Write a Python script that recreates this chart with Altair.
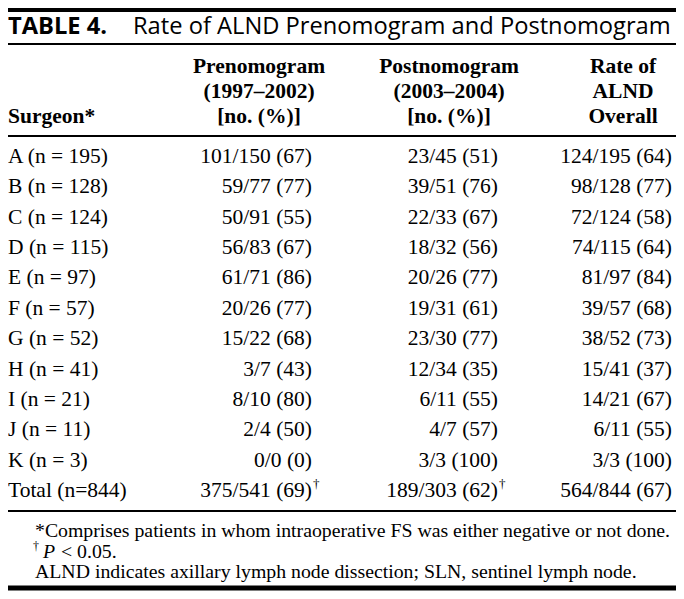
import altair as alt
import pandas as pd

# ---------------- data ----------------
table_label = "TABLE 4."
table_title = "Rate of ALND Prenomogram and Postnomogram"

head_surgeon = ["", "", "Surgeon*"]
head_pre = ["Prenomogram", "(1997–2002)", "[no. (%)]"]
head_post = ["Postnomogram", "(2003–2004)", "[no. (%)]"]
head_overall = ["Rate of", "ALND", "Overall"]

surgeons = ["A (n = 195)", "B (n = 128)", "C (n = 124)", "D (n = 115)", "E (n = 97)",
            "F (n = 57)", "G (n = 52)", "H (n = 41)", "I (n = 21)", "J (n = 11)",
            "K (n = 3)", "Total (n=844)"]
pre = ["101/150 (67)", "59/77 (77)", "50/91 (55)", "56/83 (67)", "61/71 (86)",
       "20/26 (77)", "15/22 (68)", "3/7 (43)", "8/10 (80)", "2/4 (50)",
       "0/0 (0)", "375/541 (69)"]
post = ["23/45 (51)", "39/51 (76)", "22/33 (67)", "18/32 (56)", "20/26 (77)",
        "19/31 (61)", "23/30 (77)", "12/34 (35)", "6/11 (55)", "4/7 (57)",
        "3/3 (100)", "189/303 (62)"]
overall = ["124/195 (64)", "98/128 (77)", "72/124 (58)", "74/115 (64)", "81/97 (84)",
           "39/57 (68)", "38/52 (73)", "15/41 (37)", "14/21 (67)", "6/11 (55)",
           "3/3 (100)", "564/844 (67)"]
pre_sig = [""] * 11 + ["†"]
post_sig = [""] * 11 + ["†"]

footnote_1 = "*Comprises patients in whom intraoperative FS was either negative or not done."
footnote_2_mark = "†"
footnote_2_var = "P"
footnote_2_rest = "< 0.05."
footnote_3 = "ALND indicates axillary lymph node dissection; SLN, sentinel lymph node."

# ---------------- layout ----------------
W, H = 668, 583
SERIF = "Liberation Serif"
SANS = "Open Sans"
FS = 21.5

X_LEFT = 0
X_PRE_R, X_POST_R, X_ALL_R = 304, 490, 664
X_PRE_C, X_POST_C, X_ALL_C = 251, 441, 615

rows = pd.DataFrame({"row": list(range(len(surgeons))), "surgeon": surgeons, "pre": pre,
                     "post": post, "overall": overall, "pre_sig": pre_sig, "post_sig": post_sig})
heads = pd.DataFrame({"line": [0, 1, 2], "surgeon": head_surgeon, "pre": head_pre,
                      "post": head_post, "overall": head_overall})
one = pd.DataFrame({"k": [0]})

row_y = alt.Y("row:Q", scale=alt.Scale(domain=[0, len(surgeons) - 1], range=[149, 483]), axis=None)
head_y = alt.Y("line:Q", scale=alt.Scale(domain=[0, 2], range=[59, 109]), axis=None)

layers = []

# rules
def rule(y, w):
    return alt.Chart(one).mark_rule(color="black", strokeWidth=w).encode(
        x=alt.value(0), x2=alt.value(W), y=alt.value(y))

layers += [rule(2, 4), rule(36, 2), rule(128, 2), rule(503, 2), rule(580, 5)]

# title
tstyle = dict(align="left", baseline="middle", font=SANS, fontSize=23.7, color="black")
layers.append(alt.Chart(one).mark_text(fontWeight="bold", **tstyle).encode(
    x=alt.value(0), y=alt.value(19), text=alt.value(table_label)))
layers.append(alt.Chart(one).mark_text(**tstyle).encode(
    x=alt.value(125), y=alt.value(19), text=alt.value(table_title)))

# header
hbase = alt.Chart(heads).encode(y=head_y)
hstyle = dict(baseline="middle", font=SERIF, fontSize=FS, fontWeight="bold", color="black")
layers.append(hbase.mark_text(align="left", **hstyle).encode(x=alt.value(X_LEFT), text="surgeon:N"))
layers.append(hbase.mark_text(align="center", **hstyle).encode(x=alt.value(X_PRE_C), text="pre:N"))
layers.append(hbase.mark_text(align="center", **hstyle).encode(x=alt.value(X_POST_C), text="post:N"))
layers.append(hbase.mark_text(align="center", **hstyle).encode(x=alt.value(X_ALL_C), text="overall:N"))

# body
rbase = alt.Chart(rows).encode(y=row_y)
bstyle = dict(baseline="middle", font=SERIF, fontSize=FS, color="black")
layers.append(rbase.mark_text(align="left", **bstyle).encode(x=alt.value(X_LEFT), text="surgeon:N"))
layers.append(rbase.mark_text(align="right", **bstyle).encode(x=alt.value(X_PRE_R), text="pre:N"))
layers.append(rbase.mark_text(align="right", **bstyle).encode(x=alt.value(X_POST_R), text="post:N"))
layers.append(rbase.mark_text(align="right", **bstyle).encode(x=alt.value(X_ALL_R), text="overall:N"))
sstyle = dict(baseline="middle", font=SERIF, fontSize=13, color="black", dy=-7)
layers.append(rbase.mark_text(align="left", **sstyle).encode(x=alt.value(X_PRE_R + 1), text="pre_sig:N"))
layers.append(rbase.mark_text(align="left", **sstyle).encode(x=alt.value(X_POST_R + 1), text="post_sig:N"))

# footnotes
FX = 27
fstyle = dict(baseline="middle", font=SERIF, fontSize=19.8, color="black")
layers.append(alt.Chart(one).mark_text(align="left", **fstyle).encode(
    x=alt.value(FX), y=alt.value(523), text=alt.value(footnote_1)))
layers.append(alt.Chart(one).mark_text(align="left", baseline="middle", font=SERIF, fontSize=12,
                                       color="black", dy=-6).encode(
    x=alt.value(FX - 2), y=alt.value(543.5), text=alt.value(footnote_2_mark)))
layers.append(alt.Chart(one).mark_text(align="left", fontStyle="italic", **fstyle).encode(
    x=alt.value(FX + 8), y=alt.value(543.5), text=alt.value(footnote_2_var)))
layers.append(alt.Chart(one).mark_text(align="left", **fstyle).encode(
    x=alt.value(FX + 26), y=alt.value(543.5), text=alt.value(footnote_2_rest)))
layers.append(alt.Chart(one).mark_text(align="left", **fstyle).encode(
    x=alt.value(FX), y=alt.value(564), text=alt.value(footnote_3)))

chart = alt.layer(*layers).resolve_scale(y="independent", x="independent").properties(
    width=W, height=H, padding=0, background="white",
    autosize=alt.AutoSizeParams(type="none"),
).configure_view(stroke=None)

chart.save("out.html", embed_options={"renderer": "svg", "actions": False})
